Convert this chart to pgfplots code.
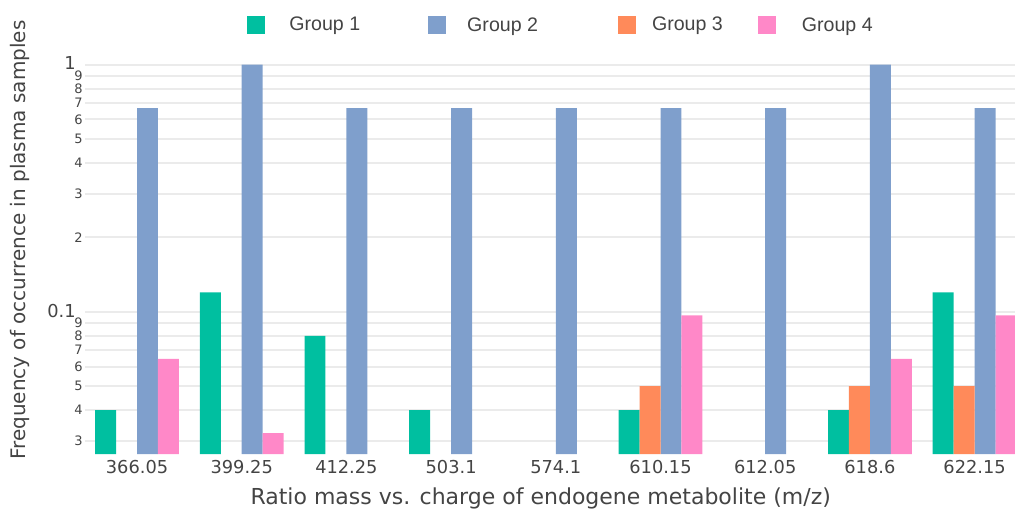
\documentclass[border=0pt]{standalone}
\usepackage{pgfplots}
\pgfplotsset{compat=1.18}
\usepackage{fontspec}
\setmainfont{DejaVu Sans}
\newfontfamily\legfont{Liberation Sans}
\definecolor{gA}{HTML}{00BFA0}
\definecolor{gB}{HTML}{7F9FCC}
\definecolor{gC}{HTML}{FF8A5A}
\definecolor{gD}{HTML}{FF88C8}
\definecolor{txt}{HTML}{444444}
\definecolor{grd}{HTML}{EBEBEB}
\newcommand\mn[1]{{\fontsize{6.5}{6.5}\selectfont #1}}
\newcommand\mj[1]{#1\hspace{3.5pt}}
\begin{document}
\begin{tikzpicture}
\useasboundingbox (-42.5pt,-29.5pt) rectangle (465pt,227pt);
\begin{axis}[
  at={(0,0)}, anchor=south west,
  scale only axis, width=465pt, height=199.5pt,
  ymode=log, log origin y=infty,
  ymin=0.0266, ymax=1.094,
  xmin=-0.497, xmax=8.386,
  axis line style={draw=none},
  major tick length=0pt, minor tick length=0pt,
  xtick={0,...,8},
  xticklabels={366.05,399.25,412.25,503.1,574.1,610.15,612.05,618.6,622.15},
  x tick label style={font=\fontsize{8.9}{10}\selectfont, text=txt, inner sep=3pt},
  ytick={0.03,0.04,0.05,0.06,0.07,0.08,0.09,0.1,0.2,0.3,0.4,0.5,0.6,0.7,0.8,0.9,1},
  yticklabels={\mn{3},\mn{4},\mn{5},\mn{6},\mn{7},\mn{8},\mn{9},\raisebox{1pt}{\mj{0.1}},\mn{2},\mn{3},\mn{4},\mn{5},\mn{6},\mn{7},\mn{8},\mn{9},\raisebox{2pt}{\mj{1}}},
  y tick label style={font=\fontsize{8.9}{10}\selectfont, text=txt, inner sep=1pt},
  ymajorgrids, grid style={grd, line width=1pt},
  ybar, bar width=0.2,
  xlabel={Ratio mass vs. charge of endogene metabolite (m/z)},
  ylabel={Frequency of occurrence in plasma samples},
  x label style={at={(axis description cs:0.49,0)}, anchor=center, yshift=-22pt, font=\fontsize{11}{13}\selectfont, text=txt},
  y label style={at={(axis description cs:-0.0699,0.536)}, anchor=center, font=\fontsize{10}{12}\selectfont, text=txt},
  legend columns=4,
  legend image code/.code={\fill[#1] (0pt,-4.5pt) rectangle (9pt,4.5pt);},
  legend style={at={(axis description cs:0,1)}, anchor=west, xshift=81pt, yshift=15pt,
    draw=none, fill=none, inner sep=0pt,
    nodes={inner sep=0pt, text=txt, font=\legfont\fontsize{9.8}{11}\selectfont},
    /tikz/every odd column/.append style={column sep=8pt}},
]
\addplot[fill=gA, draw=none, bar shift=-0.3] coordinates {(0,0.04) (1,0.12) (2,0.08) (3,0.04) (5,0.04) (7,0.04) (8,0.12)};
\addlegendentry{\rule{4pt}{0pt}Group 1\rule{34pt}{0pt}}
\addplot[fill=gB, draw=none, bar shift=0.1] coordinates {(0,0.667) (1,1) (2,0.667) (3,0.667) (4,0.667) (5,0.667) (6,0.667) (7,1) (8,0.667)};
\addlegendentry{\rule{2.5pt}{0pt}\raisebox{-1.2pt}{Group 2}\rule{40pt}{0pt}}
\addplot[fill=gC, draw=none, bar shift=-0.1] coordinates {(5,0.05) (7,0.05) (8,0.05)};
\addlegendentry{Group 3\rule{17.5pt}{0pt}}
\addplot[fill=gD, draw=none, bar shift=0.3] coordinates {(0,0.0645) (1,0.0323) (5,0.0968) (7,0.0645) (8,0.0968)};
\addlegendentry{\rule{5pt}{0pt}\raisebox{-1.2pt}{Group 4}}
\end{axis}
\end{tikzpicture}
\end{document}
